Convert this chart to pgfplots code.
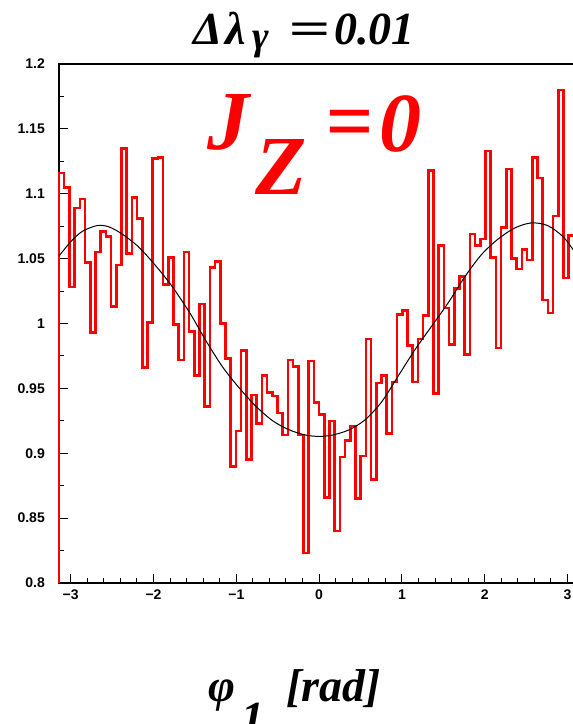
\documentclass[border=0pt]{standalone}
\usepackage{fontspec}
\setmainfont{Liberation Serif}
\setsansfont{Liberation Sans}
\usepackage{graphicx}
\usepackage{pgfplots}
\usepackage{pgfplotstable}
\pgfplotsset{compat=1.18}

% histogram: left bin edge and bin content (100 bins over -pi..pi, last one cut off)
\pgfplotstableread{
x y
-3.1416 0.800
-3.1416 1.116
-3.0788 1.105
-3.0159 1.028
-2.9531 1.089
-2.8903 1.096
-2.8274 1.047
-2.7646 0.993
-2.7018 1.055
-2.6389 1.071
-2.5761 1.067
-2.5133 1.013
-2.4504 1.045
-2.3876 1.135
-2.3248 1.054
-2.2619 1.097
-2.1991 1.081
-2.1363 0.966
-2.0735 1.001
-2.0106 1.127
-1.9478 1.128
-1.8850 1.030
-1.8221 1.051
-1.7593 0.999
-1.6965 0.972
-1.6336 1.055
-1.5708 0.994
-1.5080 0.960
-1.4451 1.015
-1.3823 0.936
-1.3195 1.043
-1.2566 1.048
-1.1938 1.000
-1.1310 0.973
-1.0681 0.890
-1.0053 0.917
-0.9425 0.979
-0.8796 0.895
-0.8168 0.945
-0.7540 0.923
-0.6912 0.960
-0.6283 0.947
-0.5655 0.944
-0.5027 0.931
-0.4398 0.914
-0.3770 0.972
-0.3142 0.967
-0.2513 0.914
-0.1885 0.823
-0.1257 0.971
-0.0628 0.939
0.0000 0.930
0.0628 0.866
0.1257 0.925
0.1885 0.840
0.2513 0.897
0.3142 0.910
0.3770 0.921
0.4398 0.865
0.5027 0.898
0.5655 0.988
0.6283 0.880
0.6912 0.954
0.7540 0.960
0.8168 0.915
0.8796 0.955
0.9425 1.007
1.0053 1.010
1.0681 0.983
1.1310 0.955
1.1938 0.988
1.2566 1.006
1.3195 1.118
1.3823 0.946
1.4451 1.060
1.5080 1.012
1.5708 0.984
1.6336 1.027
1.6965 1.036
1.7593 0.976
1.8221 1.069
1.8850 1.060
1.9478 1.065
2.0106 1.133
2.0735 1.051
2.1363 0.981
2.1991 1.074
2.2619 1.119
2.3248 1.050
2.3876 1.042
2.4504 1.057
2.5133 1.049
2.5761 1.128
2.6389 1.112
2.7018 1.018
2.7646 1.008
2.8274 1.083
2.8903 1.180
2.9531 1.035
3.0159 1.068
3.0788 1.068
}\histdata

% fitted curve
\pgfplotstableread{
x y
-3.1416 1.052
-3.00 1.063
-2.86 1.071
-2.68 1.0755
-2.54 1.0745
-2.38 1.069
-2.18 1.059
-1.98 1.045
-1.78 1.029
-1.56 1.008
-1.36 0.986
-1.16 0.966
-0.96 0.950
-0.76 0.936
-0.56 0.925
-0.36 0.918
-0.16 0.914
0.00 0.913
0.16 0.914
0.36 0.918
0.56 0.926
0.76 0.940
0.96 0.960
1.16 0.980
1.36 0.998
1.56 1.016
1.76 1.036
1.96 1.053
2.16 1.065
2.36 1.0735
2.56 1.0775
2.76 1.0755
2.96 1.066
3.1416 1.050
}\fitdata

\newcommand{\bi}[1]{\fontsize{#1}{#1}\selectfont\bfseries\itshape}

\begin{document}
\begin{tikzpicture}
\useasboundingbox (-59pt,-141pt) rectangle (514pt,583pt);
\begin{axis}[
  at={(0,0)}, anchor=south west,
  scale only axis, width=515pt, height=519pt,
  xmin=-3.1416, xmax=3.0788, ymin=0.8, ymax=1.2,
  clip=false,
  xtick={-3,-2,-1,0,1,2,3},
  xticklabels={−3,−2,−1,0,1,2,3},
  minor x tick num=4,
  ytick={0.8,0.85,0.9,0.95,1,1.05,1.1,1.15,1.2},
  yticklabels={0.8,0.85,0.9,0.95,1,1.05,1.1,1.15,1.2},
  minor y tick num=1,
  xtick pos=left, ytick pos=left, tick align=inside,
  major tick length=9pt, minor tick length=5pt,
  every tick/.style={black, line width=1pt},
  axis line style={line width=1.5pt},
  tick label style={font=\fontsize{14}{14}\selectfont\sffamily\bfseries, inner sep=0pt},
  xticklabel style={yshift=-7pt},
  yticklabel style={xshift=-14pt},
]
\addplot[const plot, red, line width=2.6pt] table[x=x, y=y] {\histdata};
\addplot[black, line width=1pt, smooth] table[x=x, y=y] {\fitdata};
\end{axis}
% title: Delta lambda_gamma = 0.01
\node[anchor=base west, inner sep=0pt] at (134pt,538pt) {\bi{46}Δ};
\node[anchor=base west, inner sep=0pt] at (166pt,538pt) {\bi{46}λ};
\node[anchor=base west, inner sep=0pt] at (193pt,533pt) {\bi{40}γ};
\node[anchor=base west, inner sep=0pt] at (229pt,538pt) {\bi{46}\scalebox{1.6}[1]{=}};
\node[anchor=base west, inner sep=0pt] at (275pt,538pt) {\bi{46}0.01};
% J_Z = 0
\node[anchor=base west, inner sep=0pt, red] at (148pt,433pt) {\bi{84}J};
\node[anchor=base west, inner sep=0pt, red] at (196pt,388pt) {\bi{84}Z};
\node[anchor=base west, inner sep=0pt, red] at (266pt,433pt) {\bi{84}=};
\node[anchor=base west, inner sep=0pt, red] at (320pt,431pt) {\bi{84}0};
% x label: phi_1 [rad]
\node[anchor=base west, inner sep=0pt] at (149pt,-118pt) {\bi{46}φ};
\node[anchor=base west, inner sep=0pt] at (182pt,-150pt) {\bi{46}1};
\node[anchor=base west, inner sep=0pt] at (227pt,-118pt) {\bi{46}[rad]};
\end{tikzpicture}
\end{document}
